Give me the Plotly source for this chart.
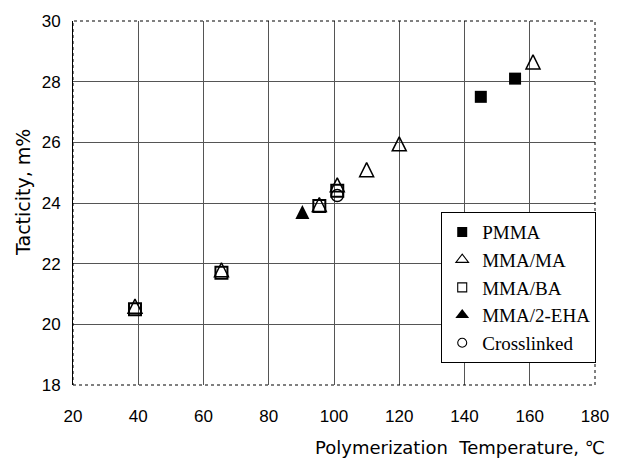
import plotly.graph_objects as go

# Data
pmma_x = [145, 155.5]
pmma_y = [27.5, 28.1]
ma_x = [39, 65.5, 95.5, 101, 110, 120, 161]
ma_y = [20.6, 21.8, 23.95, 24.6, 25.1, 25.95, 28.65]
ba_x = [39, 65.5, 95.5, 101]
ba_y = [20.5, 21.7, 23.9, 24.4]
eha_x = [90.3]
eha_y = [23.7]
cl_x = [101]
cl_y = [24.25]

x_ticks = [20, 40, 60, 80, 100, 120, 140, 160, 180]
y_ticks = [18, 20, 22, 24, 26, 28, 30]

TRI = 14
fig = go.Figure()
# data traces (legend drawn with separate small-marker entries)
fig.add_trace(go.Scatter(x=ba_x, y=ba_y, mode="markers", name="MMA/BA", legendgroup="c", showlegend=False,
                         marker=dict(symbol="square-open", size=12, color="black", line=dict(width=2))))
fig.add_trace(go.Scatter(x=pmma_x, y=pmma_y, mode="markers", name="PMMA", legendgroup="a", showlegend=False,
                         marker=dict(symbol="square", size=12, color="black")))
fig.add_trace(go.Scatter(x=ma_x, y=ma_y, mode="markers", name="MMA/MA", legendgroup="b", showlegend=False,
                         marker=dict(symbol="arrow-down-open", angle=180, standoff=TRI / 2, size=TRI,
                                     color="black", line=dict(width=1.5))))
fig.add_trace(go.Scatter(x=eha_x, y=eha_y, mode="markers", name="MMA/2-EHA", legendgroup="d", showlegend=False,
                         marker=dict(symbol="arrow-down", angle=180, standoff=TRI / 2, size=TRI,
                                     color="black", line=dict(width=0))))
fig.add_trace(go.Scatter(x=cl_x, y=cl_y, mode="markers", name="Crosslinked", legendgroup="e", showlegend=False,
                         marker=dict(symbol="circle-open", size=12, color="black", line=dict(width=1.5))))

# legend entries
legend_specs = [
    ("PMMA", "a", dict(symbol="square", size=10, color="black")),
    ("MMA/MA", "b", dict(symbol="triangle-up-open", size=11, color="black", line=dict(width=1.1))),
    ("MMA/BA", "c", dict(symbol="square-open", size=9, color="black", line=dict(width=1.1))),
    ("MMA/2-EHA", "d", dict(symbol="triangle-up", size=12, color="black")),
    ("Crosslinked", "e", dict(symbol="circle-open", size=9, color="black", line=dict(width=1.1))),
]
for i, (nm, grp, mk) in enumerate(legend_specs):
    fig.add_trace(go.Scatter(x=[None], y=[None], mode="markers", name=nm, legendgroup=grp,
                             legendrank=i + 1, marker=mk))

tickfont = dict(family="Liberation Sans Narrow, Liberation Sans, Arial", size=17, color="black")
titlefont = dict(family="DejaVu Sans, Arial", size=18, color="black")
fig.update_layout(
    width=621, height=460,
    margin=dict(l=73, r=15, t=21, b=75),
    paper_bgcolor="white", plot_bgcolor="white",
    showlegend=True,
    legend=dict(x=0.7054, y=0.475, xanchor="left", yanchor="top",
                bordercolor="black", borderwidth=1, bgcolor="white",
                font=dict(family="Liberation Serif, Times New Roman", size=19, color="black"),
                tracegroupgap=5, traceorder="normal", itemwidth=30),
    xaxis=dict(range=[20, 180], tickvals=x_ticks, ticktext=[str(v) for v in x_ticks],
               showgrid=True, gridcolor="#555", gridwidth=1, zeroline=False,
               ticks="", tickfont=tickfont, showline=False, ticklabelstandoff=19),
    yaxis=dict(range=[18, 30], tickvals=y_ticks, ticktext=[str(v) for v in y_ticks],
               showgrid=True, gridcolor="#555", gridwidth=1, zeroline=False,
               ticks="", tickfont=tickfont, showline=True, linecolor="black", linewidth=1,
               ticklabelstandoff=8),
    shapes=[dict(type="rect", xref="paper", yref="paper", x0=0, y0=0, x1=1, y1=1,
                 line=dict(color="black", width=1, dash="dot"))],
    annotations=[
        dict(text="Polymerization\u00a0\u00a0Temperature,\u00a0℃", xref="paper", yref="paper",
             x=1.0225, y=-0.173, xanchor="right", yanchor="middle", showarrow=False,
             font=titlefont),
        dict(text="Tacticity,\u00a0m%", xref="paper", yref="paper", textangle=-90,
             x=-0.096, y=0.53, xanchor="center", yanchor="middle", showarrow=False,
             font=dict(family="DejaVu Sans, Arial", size=19, color="black")),
    ],
)
fig.write_html("out.html")
